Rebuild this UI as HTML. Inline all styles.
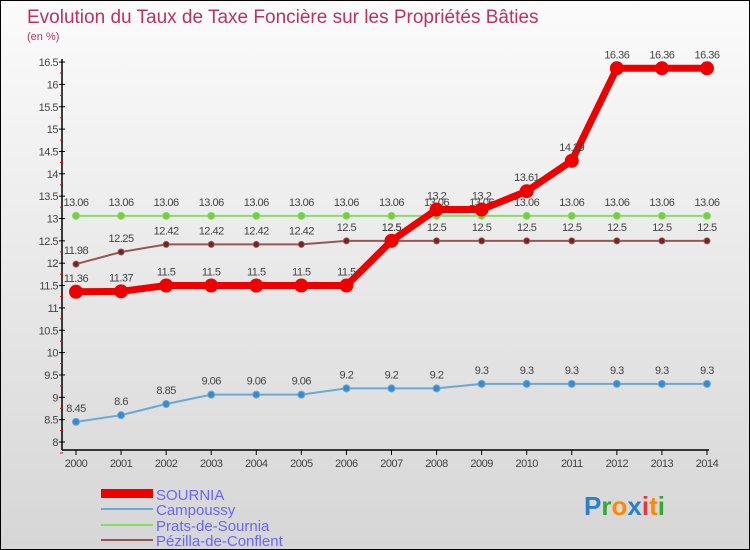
<!DOCTYPE html>
<html><head><meta charset="utf-8"><style>
body{margin:0}
#c{width:748px;height:548px;border:1px solid #000;background:linear-gradient(#fbfbfb,#d6d6d6);position:relative;font-family:"Liberation Sans",sans-serif;overflow:hidden}
svg text{font-family:"Liberation Sans",sans-serif}
</style></head><body>
<div id="c">
<svg id="s" width="748" height="548">
<text x="26" y="22" font-size="19" fill="#c03060">Evolution du Taux de Taxe Foncière sur les Propriétés Bâties</text>
<text x="26" y="39" font-size="11" fill="#c03060">(en %)</text>
<g>
<rect x="100" y="488" width="52" height="9" fill="#e00"/>
<text x="155" y="499" font-size="15" fill="#66f">SOURNIA</text>
<rect x="100" y="507" width="52" height="2" fill="#6aa8d8"/>
<text x="155" y="514" font-size="15" fill="#66f">Campoussy</text>
<rect x="100" y="523" width="52" height="2" fill="#8d6"/>
<text x="155" y="530" font-size="15" fill="#66f">Prats-de-Sournia</text>
<rect x="100" y="538" width="52" height="2" fill="#955"/>
<text x="155" y="545" font-size="15" fill="#66f">Pézilla-de-Conflent</text>
</g>
<text x="583" y="514" font-size="26" font-weight="bold"><tspan fill="#2a7fd0">P</tspan><tspan fill="#3a3">r</tspan><tspan fill="#f80">o</tspan><tspan fill="#2a7fd0">x</tspan><tspan fill="#e33">i</tspan><tspan fill="#f80">t</tspan><tspan fill="#3a3">i</tspan></text>
</svg></div>
<script>
const years=[2000,2001,2002,2003,2004,2005,2006,2007,2008,2009,2010,2011,2012,2013,2014];
const yTicks=[8,8.5,9,9.5,10,10.5,11,11.5,12,12.5,13,13.5,14,14.5,15,15.5,16,16.5];
const campoussy=[8.45,8.6,8.85,9.06,9.06,9.06,9.2,9.2,9.2,9.3,9.3,9.3,9.3,9.3,9.3];
const prats=[13.06,13.06,13.06,13.06,13.06,13.06,13.06,13.06,13.06,13.06,13.06,13.06,13.06,13.06,13.06];
const pezilla=[11.98,12.25,12.42,12.42,12.42,12.42,12.5,12.5,12.5,12.5,12.5,12.5,12.5,12.5,12.5];
const sournia=[11.36,11.37,11.5,11.5,11.5,11.5,11.5,12.5,13.2,13.2,13.61,14.29,16.36,16.36,16.36];
const s=document.getElementById('s');const NS='http://www.w3.org/2000/svg';
const X=i=>75+i*45.07, Y=v=>441-(v-8)*44.7;
function mk(t,a,p){const e=document.createElementNS(NS,t);for(const k in a)e.setAttribute(k,a[k]);(p||s).appendChild(e);return e;}
// axes
let ax=mk('line',{x1:61,y1:58,x2:61,y2:449,stroke:'#000','stroke-width':1.5});


ax=mk('line',{x1:61,y1:449,x2:708,y2:449,stroke:'#000','stroke-width':1.5});


yTicks.forEach(v=>{mk('line',{x1:58,y1:Y(v),x2:64,y2:Y(v),stroke:'#000'});
 mk('line',{x1:59,y1:Y(v)+11,x2:62,y2:Y(v)+11,stroke:'#e00'});
 const t=mk('text',{x:57,y:Y(v)+4,'font-size':11,fill:'#444','text-anchor':'end','letter-spacing':'-0.5'});t.textContent=v;
 
 });
years.forEach((y,i)=>{mk('line',{x1:X(i),y1:449,x2:X(i),y2:454,stroke:'#000'});
 const t=mk('text',{x:X(i),y:466,'font-size':11,fill:'#444','text-anchor':'middle','letter-spacing':'-0.5'});t.textContent=y;
 
 });
function series(d,col,w,r,name,dot){
 const g=mk('g',{});
 
 
 mk('polyline',{points:d.map((v,i)=>X(i)+','+Y(v)).join(' '),fill:'none',stroke:col,'stroke-width':w},g);
 d.forEach((v,i)=>{const c=mk('circle',{cx:X(i),cy:Y(v),r:r,fill:dot,stroke:col,'stroke-width':1},g);
  
  
  const t=mk('text',{x:X(i),y:Y(v)-10,'font-size':11,fill:'#444','text-anchor':'middle','letter-spacing':'-0.5'},g);t.textContent=v;
  
  });
}
series(campoussy,'#6aa8d8',2,3.5,'campoussy','#3a8acb');
series(prats,'#8d6',2,3.5,'prats','#7c4');
series(pezilla,'#955',2,3,'pezilla','#722');
series(sournia,'#e00',7,6.5,'sournia','#e00');
</script>
</body></html>
